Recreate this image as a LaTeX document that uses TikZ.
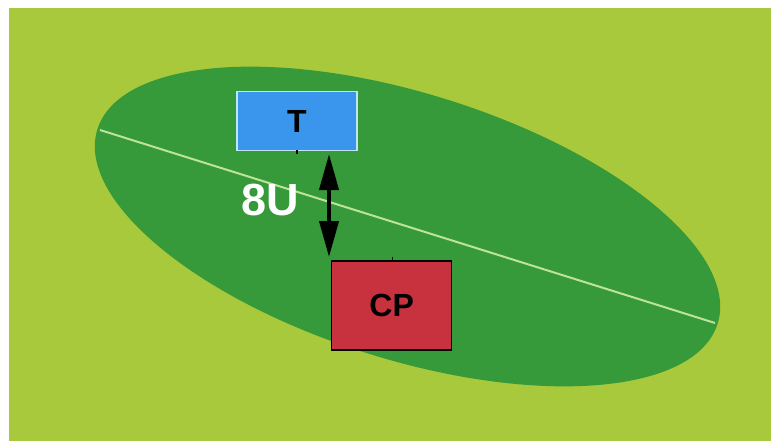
\documentclass[tikz,border=0pt]{standalone}
\usepackage{fontspec}
\setmainfont{Liberation Sans}
\usetikzlibrary{arrows.meta}
\definecolor{bgyel}{HTML}{A8C93C}
\definecolor{ellgreen}{HTML}{36993A}
\definecolor{axisline}{HTML}{BDE39A}
\definecolor{tblue}{HTML}{3A96EC}
\definecolor{tborder}{HTML}{BFE6F5}
\definecolor{cpred}{HTML}{C8323F}
\tikzset{
  box/.style={draw, line width=1.2pt, minimum width=120pt, inner sep=0pt, font=\bfseries\fontsize{32}{32}\selectfont},
  tick/.style={line width=1.5pt, black},
  dbl/.style={line width=4pt, {Triangle[length=36pt,width=19pt]}-{Triangle[length=36pt,width=19pt]}}
}
\begin{document}
\begin{tikzpicture}[x=1pt,y=-1pt]
\useasboundingbox (0,0) rectangle (771,441);
\fill[white] (0,0) rectangle (771,441);
\fill[bgyel] (9,8) rectangle (771,441);
\fill[ellgreen, rotate around={-17.4:(407.5,226.5)}] (407.5,226.5) ellipse [x radius=325, y radius=133];
\coordinate (axL) at (100,130);
\coordinate (axR) at (715,323);
\draw[axisline, line width=2pt] (axL) -- (axR);
\node[box, fill=tblue, draw=tborder, minimum height=59pt] (T) at (297,121) {T};
\node[box, fill=cpred, draw=black, minimum height=89pt] (CP) at (391.7,305.5) {CP};
\coordinate (tT) at (297,150);
\coordinate (tTb) at (297,154);
\draw[tick] (tT) -- (tTb);
\coordinate (tC) at (392.5,261);
\coordinate (tCb) at (392.5,257);
\draw[tick] (tC) -- (tCb);
\coordinate (aTop) at (329,154);
\coordinate (aBot) at (329,257);
\draw[dbl] (aTop) -- (aBot);
\node[text=white, font=\bfseries\fontsize{45}{45}\selectfont, inner sep=0pt] (lab) at (270,200) {8U};
\end{tikzpicture}
\end{document}
